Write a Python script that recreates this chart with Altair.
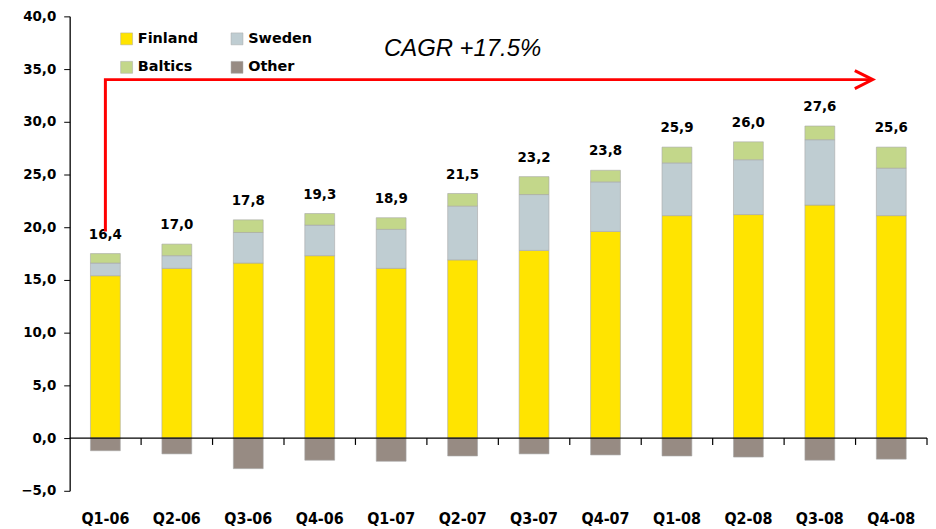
import altair as alt
import pandas as pd

quarters = ["Q1-06", "Q2-06", "Q3-06", "Q4-06", "Q1-07", "Q2-07",
            "Q3-07", "Q4-07", "Q1-08", "Q2-08", "Q3-08", "Q4-08"]
finland = [15.4, 16.1, 16.6, 17.3, 16.1, 16.9, 17.8, 19.6, 21.1, 21.2, 22.1, 21.1]
sweden = [1.2, 1.2, 2.9, 2.9, 3.7, 5.1, 5.3, 4.7, 5.0, 5.2, 6.2, 4.5]
baltics = [0.9, 1.1, 1.2, 1.1, 1.1, 1.2, 1.7, 1.1, 1.5, 1.7, 1.3, 2.0]
other = [-1.2, -1.5, -2.9, -2.1, -2.2, -1.7, -1.5, -1.6, -1.7, -1.8, -2.1, -2.0]
totals = [16.4, 17.0, 17.8, 19.3, 18.9, 21.5, 23.2, 23.8, 25.9, 26.0, 27.6, 25.6]

series = ["Finland", "Sweden", "Baltics", "Other"]
colors = {"Finland": "#FFE400", "Sweden": "#BFCDD2", "Baltics": "#C3D78A", "Other": "#978B83"}
# legend is laid out column-major in two columns: Finland/Baltics, Sweden/Other
legend_order = ["Finland", "Baltics", "Sweden", "Other"]

# CAGR annotation (category units on x, value units on y)
cagr_text = "CAGR +17.5%"
arrow_x = [0.5, 0.5, 11.24]
arrow_y = [19.6, 34.0, 34.0]
cagr_pos = (5.5, 36.9)

W, H = 862, 477

rows = []
for i, q in enumerate(quarters):
    for k, (s, vals) in enumerate(zip(series, [finland, sweden, baltics, other])):
        rows.append({"quarter": q, "series": s, "value": vals[i], "order": k})
long = pd.DataFrame(rows)

lab = pd.DataFrame({
    "quarter": quarters,
    "top": [round(f + s + b, 2) for f, s, b in zip(finland, sweden, baltics)],
    "label": [f"{t:.1f}".replace(".", ",") for t in totals],
})

xscale = alt.Scale(domain=quarters, paddingInner=0, paddingOuter=0)
yscale = alt.Scale(domain=[-5, 40], nice=False)

bars = alt.Chart(long).mark_bar(size=30, stroke="#A8A8A8", strokeWidth=0.6).encode(
    x=alt.X("quarter:N", sort=quarters, scale=xscale,
            axis=alt.Axis(title=None, domain=False, ticks=False, labelAngle=0,
                          labelFont="DejaVu Sans Condensed, Liberation Sans, sans-serif",
                          labelFontWeight="bold",
                          labelFontSize=16, labelPadding=20, labelColor="black")),
    y=alt.Y("value:Q", stack="zero", scale=yscale,
            axis=alt.Axis(title=None, values=list(range(-5, 41, 5)), grid=False,
                          labelExpr="replace(format(datum.value,'.1f'),'.',',')",
                          domainColor="black", domainWidth=1.3, tickColor="black",
                          tickSize=6, labelPadding=8, labelFont="DejaVu Sans",
                          labelFontWeight="bold", labelFontSize=13.5, labelColor="black")),
    color=alt.Color("series:N",
                    scale=alt.Scale(domain=legend_order, range=[colors[s] for s in legend_order]),
                    legend=alt.Legend(title=None, orient="none", legendX=50, legendY=15,
                                      columns=2, symbolType="square", symbolSize=144,
                                      symbolStrokeColor="#AAAAAA", symbolStrokeWidth=0.5,
                                      labelFont="DejaVu Sans", labelFontWeight="bold",
                                      labelFontSize=14.5, labelColor="black",
                                      columnPadding=31, rowPadding=13, labelOffset=4,
                                      padding=0)),
    order=alt.Order("order:Q"),
)

labels = alt.Chart(lab).mark_text(dy=-19, font="DejaVu Sans", fontWeight="bold",
                                  fontSize=13.5, color="black").encode(
    x=alt.X("quarter:N", sort=quarters, scale=xscale),
    y=alt.Y("top:Q", scale=yscale),
    text="label:N",
)

zero = alt.Chart(pd.DataFrame({"y": [0]})).mark_rule(color="black", strokeWidth=1.3).encode(
    y=alt.Y("y:Q", scale=yscale), x=alt.value(0), x2=alt.value(W))

ticks = alt.Chart(pd.DataFrame({"quarter": quarters})).mark_rule(color="black", strokeWidth=1.2).encode(
    x=alt.X("quarter:N", sort=quarters, scale=xscale, bandPosition=1),
    y=alt.datum(0), y2=alt.datum(-0.65))

base = alt.layer(bars, labels, zero, ticks)

arrow_df = pd.DataFrame({"x": arrow_x, "y": arrow_y, "i": list(range(len(arrow_x)))})
ax = alt.Scale(domain=[0, len(quarters)], nice=False, zero=False)

arrow = alt.Chart(arrow_df).mark_line(color="#FF0000", strokeWidth=3, strokeJoin="miter").encode(
    x=alt.X("x:Q", scale=ax, axis=None),
    y=alt.Y("y:Q", scale=yscale),
    order="i:Q")

head = alt.Chart(arrow_df.tail(1)).mark_point(
    shape="M-2,-1L0,0L-2,1", size=324, filled=False, color="#FF0000",
    strokeWidth=3, opacity=1).encode(
    x=alt.X("x:Q", scale=ax, axis=None),
    y=alt.Y("y:Q", scale=yscale))

cagr = alt.Chart(pd.DataFrame({"x": [cagr_pos[0]], "y": [cagr_pos[1]], "t": [cagr_text]})).mark_text(
    font="Liberation Sans", fontStyle="italic", fontSize=24, color="black").encode(
    x=alt.X("x:Q", scale=ax, axis=None),
    y=alt.Y("y:Q", scale=yscale),
    text="t:N")

annot = alt.layer(arrow, head, cagr)

chart = alt.layer(base, annot).resolve_scale(x="independent").properties(
    width=W, height=H,
    padding={"left": 12, "top": 0, "right": 0, "bottom": 0},
).configure_view(stroke=None)

chart.save("out.html", embed_options={"renderer": "svg", "actions": False})
